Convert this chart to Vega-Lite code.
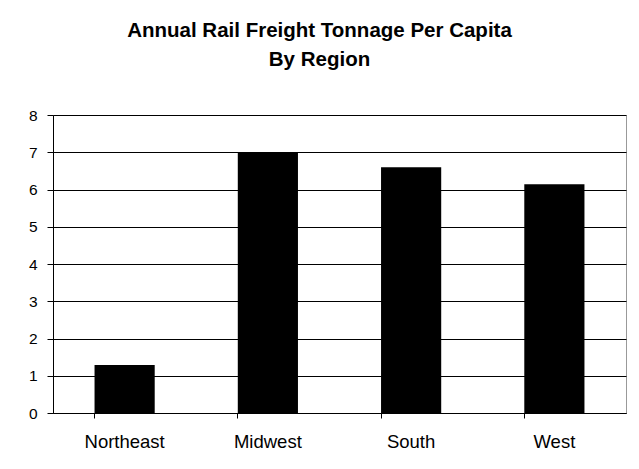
{
  "$schema": "https://vega.github.io/schema/vega-lite/v6.json",
  "width": 573,
  "height": 298,
  "autosize": "none",
  "padding": {"left": 53, "top": 115, "right": 13, "bottom": 56},
  "background": "white",
  "title": {
    "text": ["Annual Rail Freight Tonnage Per Capita", "By Region"],
    "font": "Liberation Sans",
    "fontSize": 20.5,
    "fontWeight": "bold",
    "color": "black",
    "lineHeight": 29,
    "anchor": "middle",
    "dx": -20,
    "offset": 38
  },
  "data": {
    "values": [
      {"region": "Northeast", "tonnage": 1.29},
      {"region": "Midwest", "tonnage": 7.0},
      {"region": "South", "tonnage": 6.6},
      {"region": "West", "tonnage": 6.14}
    ]
  },
  "mark": {"type": "bar", "color": "black"},
  "encoding": {
    "x": {
      "field": "region",
      "type": "nominal",
      "sort": null,
      "scale": {"paddingInner": 0.58, "paddingOuter": 0.29},
      "axis": {
        "title": null,
        "labelAngle": 0,
        "bandPosition": 0,
        "labelFont": "Liberation Sans",
        "labelFontSize": 18.5,
        "labelColor": "black",
        "labelPadding": 14,
        "tickSize": 5,
        "tickColor": "black",
        "domainColor": "black",
        "grid": false
      }
    },
    "y": {
      "field": "tonnage",
      "type": "quantitative",
      "scale": {"domain": [0, 8], "nice": false},
      "axis": {
        "title": null,
        "values": [0, 1, 2, 3, 4, 5, 6, 7, 8],
        "labelFont": "Liberation Sans",
        "labelFontSize": 15.5,
        "labelColor": "black",
        "labelPadding": 10,
        "tickSize": 6,
        "tickColor": "black",
        "domainColor": "black",
        "grid": true,
        "gridColor": "black",
        "gridOpacity": 1
      }
    }
  },
  "config": {
    "view": {"stroke": "#999999", "strokeWidth": 1}
  }
}
